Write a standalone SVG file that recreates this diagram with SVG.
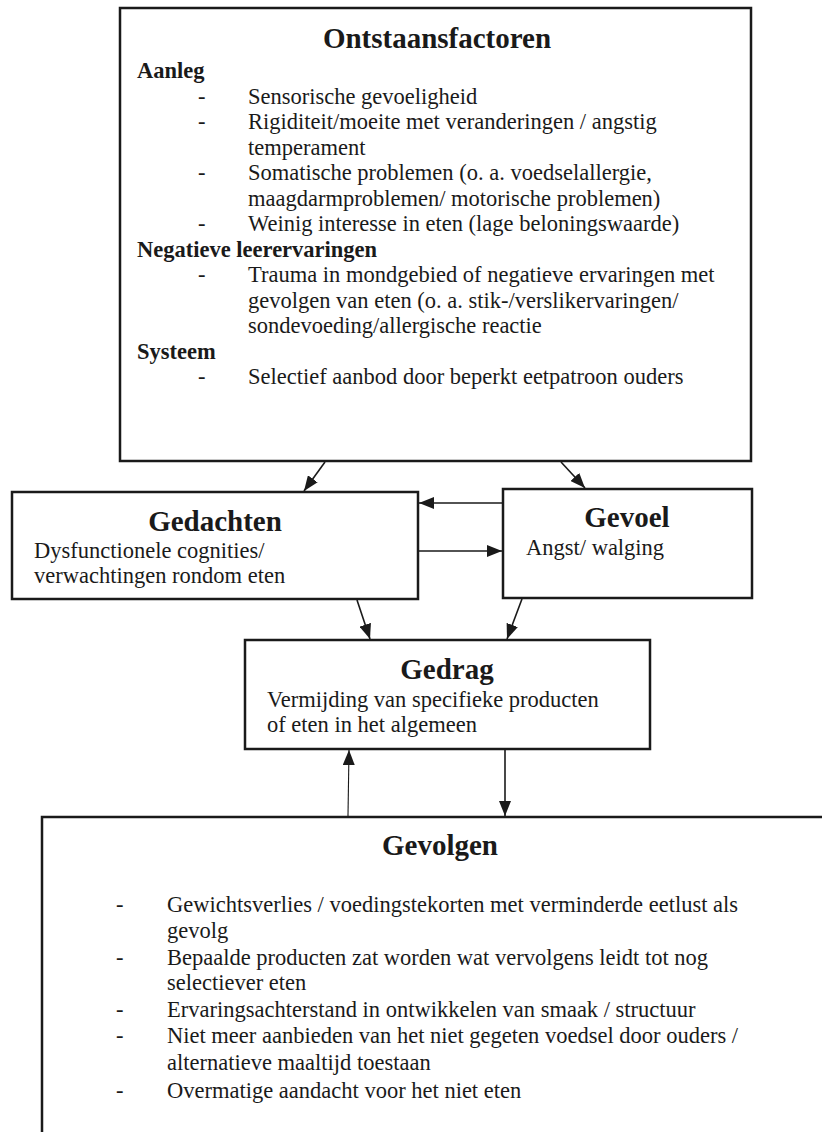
<svg xmlns="http://www.w3.org/2000/svg" width="822" height="1132" viewBox="0 0 822 1132">
<defs>
<style>
.box{fill:#fff;stroke:#1a1a1a;stroke-width:2.5}
.t{font-family:"Liberation Serif","Times New Roman",serif;font-size:22.5px;fill:#1a1a1a}
.b{font-weight:bold}
.h{font-family:"Liberation Serif","Times New Roman",serif;font-size:29px;font-weight:bold;fill:#1a1a1a;text-anchor:middle}
.c{stroke:#1a1a1a;stroke-width:1.6;fill:none;marker-end:url(#ah)}
.thin{stroke-width:1.1}
</style>
<marker id="ah" markerUnits="userSpaceOnUse" markerWidth="15" markerHeight="12" refX="15" refY="6" orient="auto">
<path d="M0,0 L15,6 L0,12 z" fill="#1a1a1a"/>
</marker>
</defs>
<rect width="822" height="1132" fill="#fff"/>

<g id="ontstaansfactoren">
<rect class="box" x="120" y="8" width="631" height="453"/>
<text class="h" x="437" y="48">Ontstaansfactoren</text>
<text class="t b" x="137" y="78">Aanleg</text>
<text class="t" x="198" y="103.5">-</text><text class="t" x="248" y="103.5">Sensorische gevoeligheid</text>
<text class="t" x="198" y="129">-</text><text class="t" x="248" y="129">Rigiditeit/moeite met veranderingen / angstig</text>
<text class="t" x="248" y="154.5">temperament</text>
<text class="t" x="198" y="180">-</text><text class="t" x="248" y="180">Somatische problemen (o. a. voedselallergie,</text>
<text class="t" x="248" y="205.5">maagdarmproblemen/ motorische problemen)</text>
<text class="t" x="198" y="231">-</text><text class="t" x="248" y="231">Weinig interesse in eten (lage beloningswaarde)</text>
<text class="t b" x="137" y="256.5">Negatieve leerervaringen</text>
<text class="t" x="198" y="282">-</text><text class="t" x="248" y="282">Trauma in mondgebied of negatieve ervaringen met</text>
<text class="t" x="248" y="307.5">gevolgen van eten (o. a. stik-/verslikervaringen/</text>
<text class="t" x="248" y="333">sondevoeding/allergische reactie</text>
<text class="t b" x="137" y="358.5">Systeem</text>
<text class="t" x="198" y="384">-</text><text class="t" x="248" y="384">Selectief aanbod door beperkt eetpatroon ouders</text>
</g>

<g id="gedachten">
<rect class="box" x="12" y="492" width="406" height="107"/>
<text class="h" x="215" y="531">Gedachten</text>
<text class="t" x="34" y="558">Dysfunctionele cognities/</text>
<text class="t" x="34" y="583">verwachtingen rondom eten</text>
</g>

<g id="gevoel">
<rect class="box" x="503" y="489" width="249" height="109"/>
<text class="h" x="627" y="527">Gevoel</text>
<text class="t" x="526" y="555">Angst/ walging</text>
</g>

<g id="gedrag">
<rect class="box" x="245" y="640" width="405" height="109"/>
<text class="h" x="447" y="679">Gedrag</text>
<text class="t" x="267" y="707">Vermijding van specifieke producten</text>
<text class="t" x="267" y="732">of eten in het algemeen</text>
</g>

<g id="gevolgen">
<rect class="box" x="42" y="817" width="800" height="340"/>
<text class="h" x="440" y="855">Gevolgen</text>
<text class="t" x="116" y="912">-</text><text class="t" x="167" y="912">Gewichtsverlies / voedingstekorten met verminderde eetlust als</text>
<text class="t" x="167" y="938">gevolg</text>
<text class="t" x="116" y="965">-</text><text class="t" x="167" y="965">Bepaalde producten zat worden wat vervolgens leidt tot nog</text>
<text class="t" x="167" y="990">selectiever eten</text>
<text class="t" x="116" y="1017">-</text><text class="t" x="167" y="1017">Ervaringsachterstand in ontwikkelen van smaak / structuur</text>
<text class="t" x="116" y="1043">-</text><text class="t" x="167" y="1043">Niet meer aanbieden van het niet gegeten voedsel door ouders /</text>
<text class="t" x="167" y="1070">alternatieve maaltijd toestaan</text>
<text class="t" x="116" y="1098">-</text><text class="t" x="167" y="1098">Overmatige aandacht voor het niet eten</text>
</g>

<g id="connectors">
<line class="c" x1="325" y1="462" x2="304" y2="491"/>
<line class="c" x1="561" y1="462" x2="585" y2="488"/>
<line class="c" x1="502" y1="503" x2="419" y2="503"/>
<line class="c" x1="419" y1="551" x2="502" y2="551"/>
<line class="c" x1="357" y1="600" x2="370" y2="639"/>
<line class="c" x1="522" y1="599" x2="507" y2="639"/>
<line class="c" x1="505" y1="750" x2="505" y2="816"/>
<line class="c thin" x1="348" y1="816" x2="349" y2="750"/>
</g>
</svg>
